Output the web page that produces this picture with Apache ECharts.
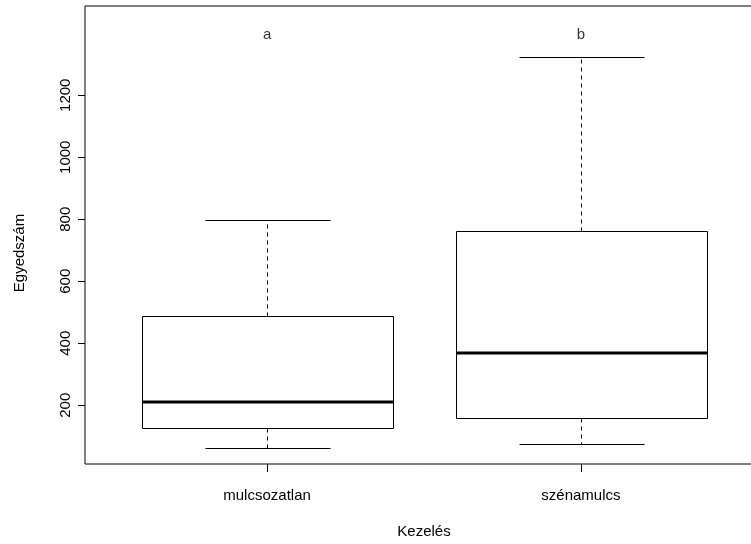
<!DOCTYPE html>
<html>
<head>
<meta charset="utf-8">
<script src="https://cdn.jsdelivr.net/npm/echarts@6/dist/echarts.min.js"></script>
<style>
  html, body { margin: 0; padding: 0; background: #fff; }
  #chart { width: 751px; height: 544px; }
</style>
</head>
<body>
<div id="chart"></div>
<script>
// Egyedszám per treatment (Kezelés): five-number summaries
const categories = ['mulcsozatlan', 'szénamulcs'];
const whiskerLow = [61, 76];
const lowerQuartile = [128, 160];
const median = [210, 370];
const upperQuartile = [489, 762];
const whiskerHigh = [798, 1323];

// significance letters above each group
const groupLetters = ['a', 'b'];
const letterLevel = 1395;

const yTicks = [200, 400, 600, 800, 1000, 1200];

const FONT = '"Liberation Sans", Arial, sans-serif';

const boxData = categories.map((c, i) => [
  i + 1, whiskerLow[i], lowerQuartile[i], median[i], upperQuartile[i], whiskerHigh[i]
]);
const letterData = groupLetters.map((l, i) => [i + 1, letterLevel, l]);

const crisp = v => Math.round(v) + 0.5;

function renderBox(params, api) {
  const x = api.value(0);
  const lo = api.coord([x, api.value(1)]);
  const q1 = api.coord([x, api.value(2)]);
  const md = api.coord([x, api.value(3)]);
  const q3 = api.coord([x, api.value(4)]);
  const hi = api.coord([x, api.value(5)]);
  const boxHalf = api.size([0.8, 0])[0] / 2;
  const capHalf = api.size([0.4, 0])[0] / 2;
  const cx = crisp(lo[0]);
  const solid = { stroke: '#000', lineWidth: 1, fill: null };
  const dashed = { stroke: '#000', lineWidth: 1, lineDash: [4, 4] };
  const line = (x1, y1, x2, y2, style) => ({
    type: 'line', shape: { x1, y1, x2, y2 }, style
  });
  return {
    type: 'group',
    children: [
      line(cx, crisp(q3[1]), cx, crisp(hi[1]), dashed),
      line(cx, crisp(q1[1]), cx, crisp(lo[1]), dashed),
      line(crisp(cx - capHalf), crisp(hi[1]), crisp(cx + capHalf), crisp(hi[1]), solid),
      line(crisp(cx - capHalf), crisp(lo[1]), crisp(cx + capHalf), crisp(lo[1]), solid),
      {
        type: 'rect',
        shape: {
          x: crisp(cx - boxHalf), y: crisp(q3[1]),
          width: Math.round(2 * boxHalf), height: Math.round(q1[1] - q3[1])
        },
        style: { stroke: '#000', lineWidth: 1, fill: '#fff' }
      },
      line(crisp(cx - boxHalf), Math.round(md[1]), crisp(cx + boxHalf), Math.round(md[1]),
        { stroke: '#000', lineWidth: 3 })
    ]
  };
}

const chart = echarts.init(document.getElementById('chart'), null, { renderer: 'canvas' });

chart.setOption({
  animation: false,
  backgroundColor: '#fff',
  textStyle: { fontFamily: FONT },
  // plot frame runs past the right edge of the canvas
  grid: {
    left: 85, width: 678, top: 6, bottom: 80,
    outerBoundsMode: 'none',
    show: true, borderColor: '#000', borderWidth: 1, backgroundColor: 'transparent'
  },
  xAxis: {
    type: 'value',
    min: 0.42, max: 2.58,
    name: 'Kezelés',
    nameLocation: 'middle',
    nameGap: 60,
    nameTextStyle: { fontFamily: FONT, fontSize: 15, color: '#000' },
    axisLine: { show: false },
    splitLine: { show: false },
    axisTick: { show: true, length: 8, customValues: [1, 2], lineStyle: { color: '#000', width: 1 } },
    axisLabel: {
      customValues: [1, 2],
      formatter: v => categories[Math.round(v) - 1],
      fontFamily: FONT, fontSize: 15, color: '#000', margin: 24
    }
  },
  yAxis: {
    type: 'value',
    min: 10.6, max: 1488,
    axisLine: { show: false },
    splitLine: { show: false },
    axisTick: { show: true, length: 7, customValues: yTicks, lineStyle: { color: '#000', width: 1 } },
    axisLabel: {
      customValues: yTicks,
      formatter: v => String(v),
      rotate: 90,
      fontFamily: FONT, fontSize: 15, color: '#000', margin: 12
    }
  },
  graphic: [{
    type: 'text',
    x: 20, y: 253,
    rotation: Math.PI / 2,
    style: {
      text: 'Egyedszám',
      fontFamily: FONT, fontSize: 15, fill: '#000',
      align: 'center', verticalAlign: 'middle'
    }
  }],
  series: [
    {
      type: 'custom',
      renderItem: renderBox,
      encode: { x: 0, y: [1, 2, 3, 4, 5] },
      data: boxData,
      clip: false
    },
    {
      type: 'scatter',
      symbolSize: 0,
      data: letterData,
      label: {
        show: true,
        position: 'inside',
        formatter: p => p.data[2],
        fontFamily: FONT, fontSize: 15, color: '#000'
      }
    }
  ]
});
</script>
</body>
</html>
